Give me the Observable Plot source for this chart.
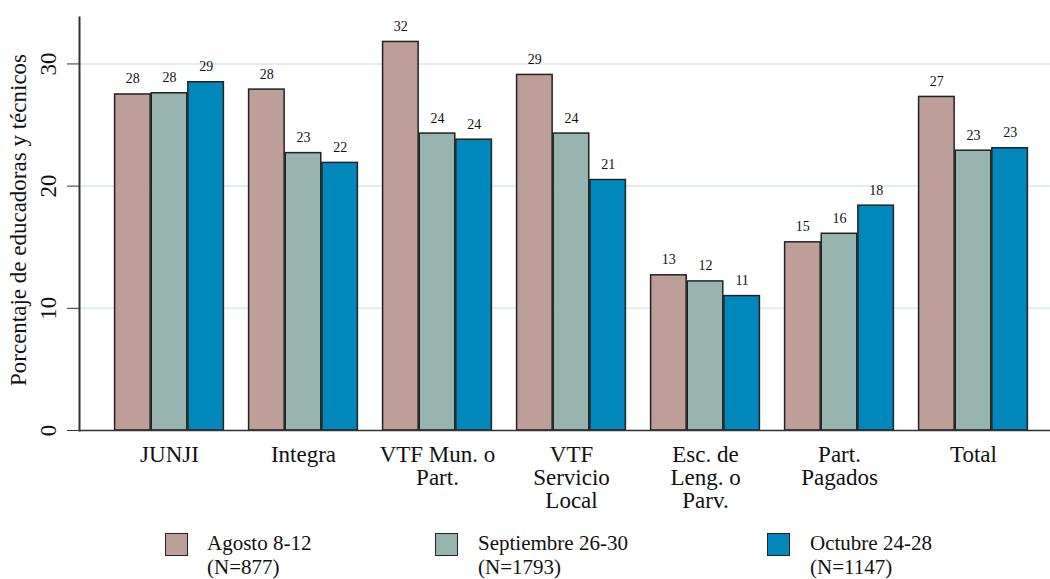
<!DOCTYPE html>
<html>
<head>
<meta charset="utf-8">
<script src="https://cdn.jsdelivr.net/npm/d3@7"></script>
<script src="https://cdn.jsdelivr.net/npm/@observablehq/plot@0.6"></script>
<style>
  body { margin: 0; background: #fff; font-family: "Liberation Serif", "Times New Roman", serif; }
  #wrap { position: relative; width: 1050px; height: 579px; }
  #legend { position: relative; height: 57px; width: 1050px; }
  .sw { position: absolute; top: 11px; width: 23px; height: 23px; border: 1.5px solid #222; box-sizing: border-box; }
  .lab { position: absolute; white-space: nowrap; font-size: 21px; line-height: 24px; color: #111; }
</style>
</head>
<body>
<div id="wrap"><div id="chart"></div><div id="legend"></div></div>
<script>
const categories = ["JUNJI", "Integra", "VTF Mun. o Part.", "VTF Servicio Local", "Esc. de Leng. o Parv.", "Part. Pagados", "Total"];
const categoryLabels = ["JUNJI", "Integra", "VTF Mun. o\nPart.", "VTF\nServicio\nLocal", "Esc. de\nLeng. o\nParv.", "Part.\nPagados", "Total"];
const seriesNames = ["Agosto 8-12", "Septiembre 26-30", "Octubre 24-28"];
const seriesN = ["(N=877)", "(N=1793)", "(N=1147)"];
const agosto     = [27.5, 27.9, 31.8, 29.1, 12.7, 15.4, 27.3];
const septiembre = [27.6, 22.7, 24.3, 24.3, 12.2, 16.1, 22.9];
const octubre    = [28.5, 21.9, 23.8, 20.5, 11.0, 18.4, 23.1];
const seriesValues = [agosto, septiembre, octubre];
const colors = ["#bd9e98", "#98b4ae", "#0088bc"];
const yTicks = [0, 10, 20, 30];
const yTitle = "Porcentaje de educadoras y técnicos";

const width = 1050, height = 522;
const marginLeft = 79, marginRight = 0, marginTop = 17, marginBottom = 92;
const pInner = 0.18, pOuter = 0.213, align = 0.613;
const step = (width - marginLeft - marginRight) / (categories.length - pInner + 2 * pOuter);
const bw = step * (1 - pInner);
const third = bw / 3;
const font = "Liberation Serif, Times New Roman, serif";

const data = [];
seriesNames.forEach((s, i) => categories.forEach((c, j) => data.push({cat: c, series: s, si: i, value: seriesValues[i][j]})));

const barMarks = seriesNames.flatMap((s, i) => {
  const d = data.filter(r => r.si === i);
  return [
    Plot.barY(d, {x: "cat", y: "value", fill: colors[i], stroke: "#222", strokeWidth: 1.5,
      insetLeft: i * third + 0.6, insetRight: (2 - i) * third + 0.6}),
    Plot.text(d, {x: "cat", y: "value", text: r => String(Math.round(r.value)), dx: (i - 1) * third,
      dy: -11, lineAnchor: "bottom", fontSize: 14, fill: "#111", fontFamily: font})
  ];
});

const chart = Plot.plot({
  width, height, marginLeft, marginRight, marginTop, marginBottom,
  style: {fontFamily: font, fontSize: "23px", background: "#fff", color: "#111"},
  x: {domain: categories, paddingInner: pInner, paddingOuter: pOuter, align},
  y: {domain: [0, 33.8]},
  marks: [
    Plot.gridY(yTicks.slice(1), {stroke: "#e3edf1", strokeOpacity: 1, strokeWidth: 2}),
    ...barMarks,
    Plot.ruleY([0], {stroke: "#333", strokeWidth: 1.5}),
    Plot.axisY({ticks: yTicks, tickSize: 12, tickPadding: 12, tickRotate: -90, fontSize: 23, fontFamily: font, label: null, stroke: "#333"}),
    Plot.frame({anchor: "left", stroke: "#333", strokeWidth: 2}),
    Plot.axisX({tickSize: 0, tickPadding: 15, fontSize: 23, fontFamily: font, lineHeight: 1.0, label: null,
      tickFormat: c => categoryLabels[categories.indexOf(c)]}),
    Plot.text([yTitle], {frameAnchor: "left", textAnchor: "middle", rotate: -90, dx: -61, dy: -4, fontSize: 23, fontFamily: font, fill: "#111"})
  ]
});
document.getElementById("chart").appendChild(chart);

const legend = document.getElementById("legend");
const sx = [165, 435, 767];
const tx = [207, 478, 810];
seriesNames.forEach((s, i) => {
  const sw = document.createElement("div");
  sw.className = "sw";
  sw.style.left = sx[i] + "px";
  sw.style.background = colors[i];
  legend.appendChild(sw);
  const lab = document.createElement("div");
  lab.className = "lab";
  lab.style.left = tx[i] + "px";
  lab.style.top = "9px";
  lab.innerHTML = `${s}<br>${seriesN[i]}`;
  legend.appendChild(lab);
});
</script>
</body>
</html>
